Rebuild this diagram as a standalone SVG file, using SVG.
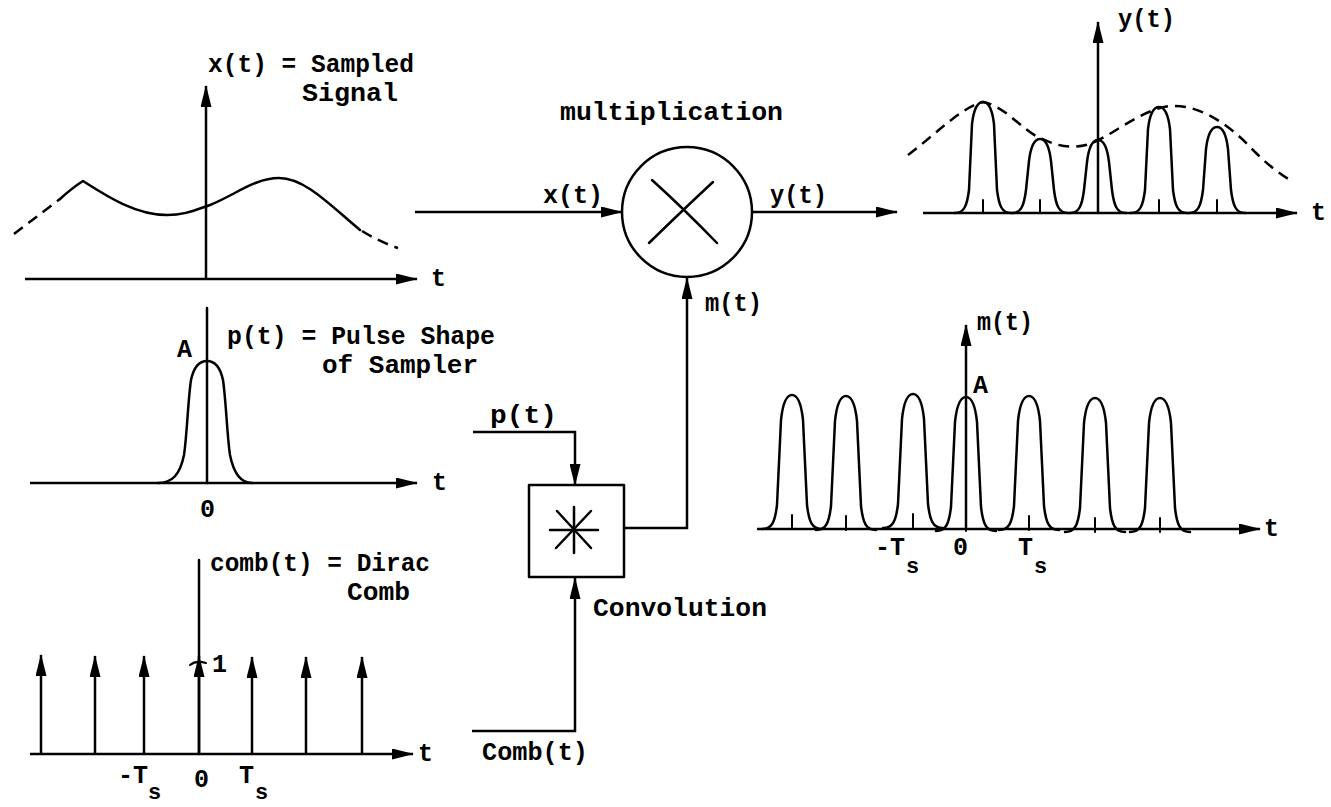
<svg xmlns="http://www.w3.org/2000/svg" xmlns:xlink="http://www.w3.org/1999/xlink" width="1331" height="807" viewBox="0 0 1331 807">
<style>
  .ln { fill: none; stroke: #000; stroke-width: 2.5; stroke-linecap: round; stroke-linejoin: round; }
  .thin { fill: none; stroke: #000; stroke-width: 2; stroke-linecap: round; }
  .dash { fill: none; stroke: #000; stroke-width: 2.5; stroke-dasharray: 11 7; }
  .ax { fill: none; stroke: #000; stroke-width: 2.5; marker-end: url(#ah); }
  .tx { font-family: "Liberation Mono", "Courier New", monospace; font-weight: bold; font-size: 25px; fill: #000; }
  .sub { font-family: "Liberation Mono", "Courier New", monospace; font-weight: bold; font-size: 22px; fill: #000; }
</style>
<defs>
  <marker id="ah" markerWidth="22" markerHeight="11" refX="21" refY="5.5" orient="auto" markerUnits="userSpaceOnUse">
    <path d="M0,0 L22,5.5 L0,11 z" fill="#000"/>
  </marker>
  <g id="mpulse">
    <path class="ln" d="M-30,0 C-20,0 -17,-7 -15,-24 L-11,-109 C-9,-128 -5,-134 0,-134 C5,-134 9,-128 11,-109 L15,-24 C17,-7 20,0 30,0"/>
    <line class="thin" x1="0" y1="-14" x2="0" y2="0"/>
  </g>
</defs>
<rect width="1331" height="807" fill="#fff"/>

<g id="panel-x">
  <line class="ax" x1="206" y1="279" x2="206" y2="86"/>
  <line class="ax" x1="25" y1="279" x2="417" y2="279"/>
  <path class="dash" d="M14,234 L60,199"/>
  <path class="ln" d="M60,199 Q72,188 83,181 C105,195 135,215 167,215 C185,215 195,210 210,205 C235,195 255,178 279,178 C305,178 330,205 360,230"/>
  <path class="dash" d="M362,231 Q380,242 398,248"/>
  <text class="tx" x="208" y="72" textLength="206" lengthAdjust="spacingAndGlyphs">x(t) = Sampled</text>
  <text class="tx" x="302" y="101" textLength="96" lengthAdjust="spacingAndGlyphs">Signal</text>
  <text class="tx" x="431" y="286">t</text>
</g>

<g id="panel-p">
  <line class="ln" x1="207" y1="308" x2="207" y2="483"/>
  <line class="ax" x1="30" y1="483" x2="417" y2="483"/>
  <path class="ln" d="M158,483 C172,483 180,475 184,455 C187,435 188,400 191,380 C194,366 200,361 207,361 C214,361 220,366 223,380 C226,400 227,435 230,455 C234,475 242,483 252,483"/>
  <text class="tx" x="177" y="357">A</text>
  <text class="tx" x="200" y="517">0</text>
  <text class="tx" x="227" y="344" textLength="268" lengthAdjust="spacingAndGlyphs">p(t) = Pulse Shape</text>
  <text class="tx" x="322" y="373" textLength="156" lengthAdjust="spacingAndGlyphs">of Sampler</text>
  <text class="tx" x="432" y="490">t</text>
</g>

<g id="panel-comb">
  <line class="ln" x1="199" y1="560" x2="199" y2="754"/>
  <line class="ax" x1="30" y1="754" x2="413" y2="754"/>
  <line class="ax" x1="41" y1="754" x2="41" y2="655"/>
  <line class="ax" x1="95" y1="754" x2="95" y2="656"/>
  <line class="ax" x1="144" y1="754" x2="144" y2="656"/>
  <line class="ax" x1="199" y1="754" x2="199" y2="656"/>
  <line class="ax" x1="252" y1="754" x2="252" y2="657"/>
  <line class="ax" x1="306" y1="754" x2="306" y2="657"/>
  <line class="ax" x1="362" y1="754" x2="362" y2="657"/>
  <path class="thin" d="M190,665 Q196,660 206,663"/>
  <text class="tx" x="210" y="571" textLength="220" lengthAdjust="spacingAndGlyphs">comb(t) = Dirac</text>
  <text class="tx" x="347" y="600" textLength="63" lengthAdjust="spacingAndGlyphs">Comb</text>
  <text class="tx" x="212" y="672">1</text>
  <text class="tx" x="118" y="783">-T</text>
  <text class="sub" x="148" y="799">s</text>
  <text class="tx" x="194" y="787">0</text>
  <text class="tx" x="239" y="783">T</text>
  <text class="sub" x="255" y="799">s</text>
  <text class="tx" x="418" y="761">t</text>
</g>

<g id="multiplier">
  <circle class="ln" cx="687" cy="212" r="65"/>
  <path class="ln" d="M652,180 Q682,207 717,243"/>
  <path class="ln" d="M713,182 Q686,207 649,243"/>
  <text class="tx" x="560" y="120" textLength="223" lengthAdjust="spacingAndGlyphs">multiplication</text>
</g>

<g id="convolver">
  <rect class="ln" x="529" y="485" width="95" height="92"/>
  <line class="ln" x1="550" y1="530" x2="598" y2="530"/>
  <line class="ln" x1="574" y1="507" x2="574" y2="553"/>
  <line class="ln" x1="557" y1="511" x2="591" y2="548"/>
  <line class="ln" x1="591" y1="511" x2="556" y2="548"/>
  <text class="tx" x="593" y="616" textLength="174" lengthAdjust="spacingAndGlyphs">Convolution</text>
</g>

<g id="connectors">
  <line class="ax" x1="415" y1="212" x2="622" y2="212"/>
  <line class="ax" x1="752" y1="212" x2="897" y2="212"/>
  <polyline class="ax" points="625,528 687,528 687,278"/>
  <polyline class="ax" points="473,432 575,432 575,485"/>
  <polyline class="ax" points="472,731 575,731 575,578"/>
  <text class="tx" x="543" y="203" textLength="60" lengthAdjust="spacingAndGlyphs">x(t)</text>
  <text class="tx" x="770" y="203" textLength="57" lengthAdjust="spacingAndGlyphs">y(t)</text>
  <text class="tx" x="705" y="311" textLength="57" lengthAdjust="spacingAndGlyphs">m(t)</text>
  <text class="tx" x="490" y="423" textLength="67" lengthAdjust="spacingAndGlyphs">p(t)</text>
  <text class="tx" x="482" y="760" textLength="106" lengthAdjust="spacingAndGlyphs">Comb(t)</text>
</g>

<g id="panel-y">
  <line class="ax" x1="1098" y1="213" x2="1098" y2="22"/>
  <line class="ax" x1="923" y1="213" x2="1297" y2="213"/>
  <path class="ln" d="M955,213 C964,213 967,206 969,190 L972,124 C974,107 978,102 983,102 C988,102 992,107 994,124 L997,190 C999,206 1002,213 1011,213"/>
  <path class="ln" d="M1012,213 C1021,213 1024,206 1026,190 L1029,161 C1031,144 1035,139 1040,139 C1045,139 1049,144 1051,161 L1054,190 C1056,206 1059,213 1068,213"/>
  <path class="ln" d="M1070,213 C1079,213 1082,206 1084,190 L1087,162 C1089,145 1093,140 1098,140 C1103,140 1107,145 1109,162 L1112,190 C1114,206 1117,213 1126,213"/>
  <path class="ln" d="M1131,213 C1140,213 1143,206 1145,190 L1148,129 C1150,112 1154,107 1159,107 C1164,107 1168,112 1170,129 L1173,190 C1175,206 1178,213 1187,213"/>
  <path class="ln" d="M1189,213 C1198,213 1201,206 1203,190 L1206,149 C1208,132 1212,127 1217,127 C1222,127 1226,132 1228,149 L1231,190 C1233,206 1236,213 1245,213"/>
  <line class="thin" x1="983" y1="200" x2="983" y2="213"/>
  <line class="thin" x1="1040" y1="200" x2="1040" y2="213"/>
  <line class="thin" x1="1159" y1="200" x2="1159" y2="213"/>
  <line class="thin" x1="1217" y1="200" x2="1217" y2="213"/>
  <path class="dash" d="M908,155 C935,135 960,108 983,102 C1005,106 1022,130 1040,138 C1055,145 1070,150 1090,144 C1115,134 1140,110 1170,106 C1200,104 1230,125 1255,152 C1268,165 1280,174 1290,180"/>
  <text class="tx" x="1118" y="27" textLength="57" lengthAdjust="spacingAndGlyphs">y(t)</text>
  <text class="tx" x="1311" y="220">t</text>
</g>

<g id="panel-m">
  <line class="ax" x1="966" y1="529" x2="966" y2="325"/>
  <line class="ax" x1="757" y1="529" x2="1260" y2="529"/>
  <use xlink:href="#mpulse" x="792" y="529"/>
  <use xlink:href="#mpulse" x="846" y="530"/>
  <use xlink:href="#mpulse" x="913" y="528"/>
  <use xlink:href="#mpulse" x="966" y="531"/>
  <use xlink:href="#mpulse" x="1029" y="530"/>
  <use xlink:href="#mpulse" x="1095" y="532"/>
  <use xlink:href="#mpulse" x="1160" y="532"/>
  <text class="tx" x="977" y="330" textLength="56" lengthAdjust="spacingAndGlyphs">m(t)</text>
  <text class="tx" x="973" y="393">A</text>
  <text class="tx" x="875" y="555">-T</text>
  <text class="sub" x="906" y="573">s</text>
  <text class="tx" x="953" y="555">0</text>
  <text class="tx" x="1018" y="555">T</text>
  <text class="sub" x="1034" y="573">s</text>
  <text class="tx" x="1264" y="536">t</text>
</g>
</svg>
